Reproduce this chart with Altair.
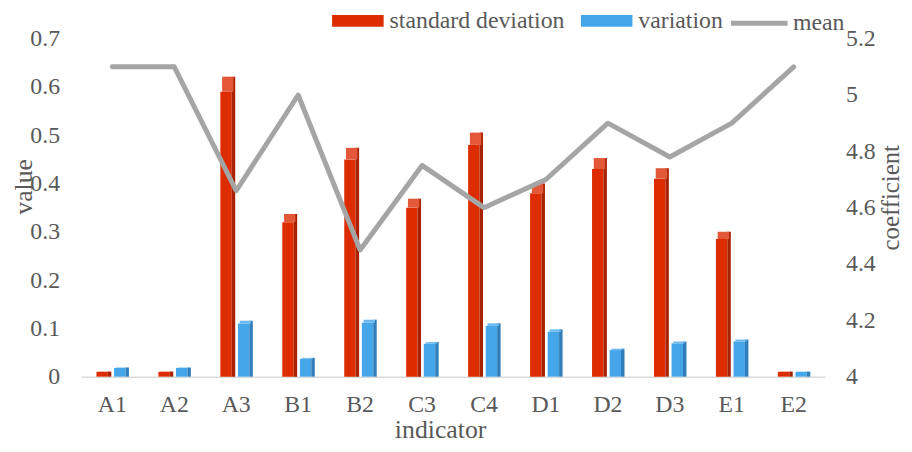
import altair as alt
import pandas as pd

# ---- data ----
indicators = ["A1", "A2", "A3", "B1", "B2", "C3", "C4", "D1", "D2", "D3", "E1", "E2"]
std_dev = [0.01, 0.01, 0.59, 0.32, 0.45, 0.35, 0.48, 0.38, 0.43, 0.41, 0.285, 0.01]
variation = [0.018, 0.018, 0.11, 0.037, 0.112, 0.068, 0.105, 0.093, 0.055, 0.069, 0.073, 0.01]
mean = [5.1, 5.1, 4.66, 5.0, 4.45, 4.75, 4.6, 4.7, 4.9, 4.78, 4.9, 5.1]
series_names = ["standard deviation", "variation", "mean"]
left_ticks = [0, 0.1, 0.2, 0.3, 0.4, 0.5, 0.6, 0.7]
right_ticks = [4, 4.2, 4.4, 4.6, 4.8, 5, 5.2]

FONT = "Liberation Serif"
TEXT = "#595959"
RED, RED_SIDE, RED_TOP = "#DC2C00", "#A82200", "#E4583A"
BLUE, BLUE_SIDE, BLUE_TOP = "#46A6EA", "#2F7EB9", "#6DB9EF"
GRAY = "#A5A5A5"

bars_df = pd.DataFrame({
    "indicator": indicators * 2,
    "series": [series_names[0]] * len(indicators) + [series_names[1]] * len(indicators),
    "value": std_dev + variation,
})
line_df = pd.DataFrame({"indicator": indicators, "series": series_names[2], "value": mean})

x_enc = alt.X(
    "indicator:N", sort=indicators,
    scale=alt.Scale(paddingInner=0, paddingOuter=0),
    axis=alt.Axis(title="indicator", labelAngle=0, ticks=False, domainColor="#D9D9D9",
                  domainWidth=1.5, labelPadding=16, titleX=362, titleY=61,
                  titleBaseline="alphabetic", titleAlign="center"),
)

y_axis = alt.Axis(title="value", values=left_ticks, format="~g", grid=False, ticks=False,
                  domain=False, labelPadding=22, titleAngle=270, titleX=-58, titleY=149,
                  titleBaseline="middle", titleAlign="center")
y_scale = alt.Scale(domain=[0, 0.7], nice=False, zero=True)

base = alt.Chart(bars_df).transform_calculate(top="datum.value * 1.053")

def face_layers(series, side, top, off_front, legend):
    src = base.transform_filter(alt.datum.series == series)
    front_l = src.mark_bar(width=11.5, xOffset=off_front).encode(
        x=x_enc,
        y=alt.Y("value:Q", scale=y_scale, axis=y_axis),
        color=alt.Color("series:N",
                        scale=alt.Scale(domain=series_names[:2], range=[RED, BLUE]),
                        legend=legend),
    )
    side_l = src.mark_bar(width=3.5, xOffset=off_front + 7.5, color=side).encode(
        x=x_enc,
        y=alt.Y("top:Q", scale=y_scale, axis=y_axis),
    )
    top_l = src.mark_bar(width=11.5, xOffset=off_front + 1.75, color=top).encode(
        x=x_enc,
        y=alt.Y("top:Q", scale=y_scale, axis=y_axis),
        y2="value:Q",
    )
    return [front_l, side_l, top_l]

bar_legend = alt.Legend(
    title=None, orient="none", legendX=253, legendY=-44, direction="horizontal",
    symbolType="M-1,-0.23H1V0.23H-1Z", symbolSize=2704, symbolStrokeWidth=0,
    labelFont=FONT, labelFontSize=24, labelColor=TEXT, labelLimit=400,
    columnPadding=16, labelOffset=6,
)

red_layers = face_layers(series_names[0], RED_SIDE, RED_TOP, -10.25, bar_legend)
blue_layers = face_layers(series_names[1], BLUE_SIDE, BLUE_TOP, 7.5, bar_legend)
bars = alt.layer(*(red_layers + blue_layers))

line = alt.Chart(line_df).mark_line(strokeWidth=5, strokeCap="round", strokeJoin="round").encode(
    x=x_enc,
    y=alt.Y("value:Q", scale=alt.Scale(domain=[4, 5.2], nice=False, zero=False),
            axis=alt.Axis(title="coefficient", orient="right", values=right_ticks, format="~g",
                          grid=False, ticks=False, domain=False, labelPadding=21,
                          titleAngle=270, titleX=66, titleY=160, titleBaseline="middle",
                          titleAlign="center", titleFontSize=25)),
    stroke=alt.Stroke("series:N", scale=alt.Scale(domain=[series_names[2]], range=[GRAY]),
                      legend=alt.Legend(title=None, orient="none", legendX=653, legendY=-46.5,
                                        symbolType="stroke", symbolSize=3249,
                                        symbolStrokeWidth=5, labelFont=FONT, labelFontSize=24,
                                        labelColor=TEXT, labelOffset=3, labelLimit=200)),
)

chart = alt.layer(bars, line).resolve_scale(y="independent").properties(
    width=750, height=341,
    autosize=alt.AutoSizeParams(type="none"),
    padding={"left": 74, "top": 29, "right": 80, "bottom": 66},
).configure_view(stroke=None).configure_axis(
    labelFont=FONT, labelFontSize=24, labelColor=TEXT,
    titleFont=FONT, titleFontSize=26, titleColor=TEXT, titleFontWeight="normal",
)

chart.save("out.html", embed_options={"renderer": "svg", "actions": False})
